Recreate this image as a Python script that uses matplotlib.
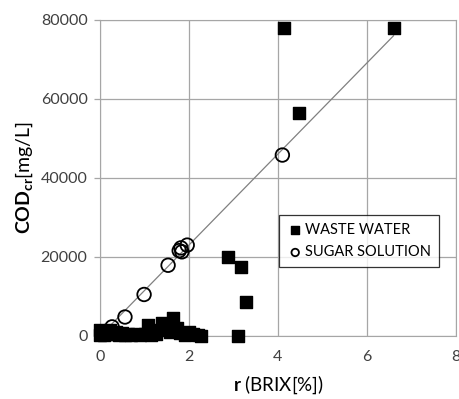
import matplotlib.pyplot as plt

# waste water samples (BRIX %, COD mg/L)
waste_x = [0.0, 0.0, 0.03, 0.08, 0.12, 0.18, 0.22, 0.3, 0.35, 0.42, 0.5, 0.55,
           0.62, 0.7, 0.8, 0.9, 1.0, 1.08, 1.15, 1.25, 1.32, 1.39, 1.46, 1.52,
           1.58, 1.64, 1.72, 1.8, 1.9, 2.0, 2.1, 2.2, 2.27,
           2.88, 3.17, 3.28, 3.1, 4.13, 4.47, 6.6]
waste_y = [300, 1500, 800, 200, 1200, 600, 1500, 400, 1000, 300, 800, 200,
           600, 300, 500, 200, 600, 2700, 300, 500, 1500, 3400, 2800, 1800,
           1000, 4500, 2000, 800, 300, 1000, 500, 200, 100,
           20000, 17500, 8500, 0, 78000, 56500, 78000]

# sugar solution samples
sugar_x = [0.05, 0.27, 0.56, 0.99, 1.53, 1.78, 1.82, 1.84, 1.96, 4.1]
sugar_y = [500, 2300, 4800, 10500, 17900, 21600, 22300, 21300, 23000, 45800]

# trend line
line_x = [0.0, 6.6]
line_y = [0.0, 76000]

plt.rcParams['font.family'] = ['Lato', 'DejaVu Sans']
plt.rcParams['mathtext.fontset'] = 'custom'
plt.rcParams['mathtext.rm'] = 'Lato'
plt.rcParams['mathtext.bf'] = 'Lato:bold'

fig = plt.figure(figsize=(4.59, 3.99), dpi=100)
ax = fig.add_axes([0.218, 0.158, 0.775, 0.792])

grey = '#a6a6a6'
ax.plot(line_x, line_y, color='#808080', linewidth=0.9, zorder=2)
ax.scatter(sugar_x, sugar_y, s=95, facecolors='none', edgecolors='black',
           linewidths=1.3, zorder=3, label='SUGAR SOLUTION')
ax.scatter(waste_x, waste_y, s=85, marker='s', color='black', zorder=4,
           label='WASTE WATER', clip_on=False)

ax.set_xlim(0, 8)
ax.set_ylim(0, 80000)
ax.set_xticks([0, 2, 4, 6, 8])
ax.set_yticks([0, 20000, 40000, 60000, 80000])
ax.grid(True, color=grey, linewidth=0.9)
ax.set_axisbelow(True)
for sp in ax.spines.values():
    sp.set_color(grey)
ax.tick_params(axis='both', colors='#404040', labelsize=11.5, length=4, width=0.9)
ax.tick_params(axis='x', length=0, pad=10)
ax.tick_params(axis='y', color=grey, pad=5)

ax.set_xlabel(r'$\mathbf{r}$ (BRIX[%])', fontsize=13.5, labelpad=7)
ax.set_ylabel(r'$\mathbf{COD_{cr}}$[mg/L]', fontsize=14, labelpad=4)

handles, labels = ax.get_legend_handles_labels()
leg = ax.legend(handles[::-1], labels[::-1], loc='upper left',
                bbox_to_anchor=(0.483, 0.405), fontsize=10.5, frameon=True,
                fancybox=False, edgecolor='black', markerscale=0.55,
                handletextpad=0.1, handlelength=1.2, borderpad=0.5,
                labelspacing=0.6)
leg.get_frame().set_linewidth(0.9)

fig.savefig('out.png', dpi=100)
